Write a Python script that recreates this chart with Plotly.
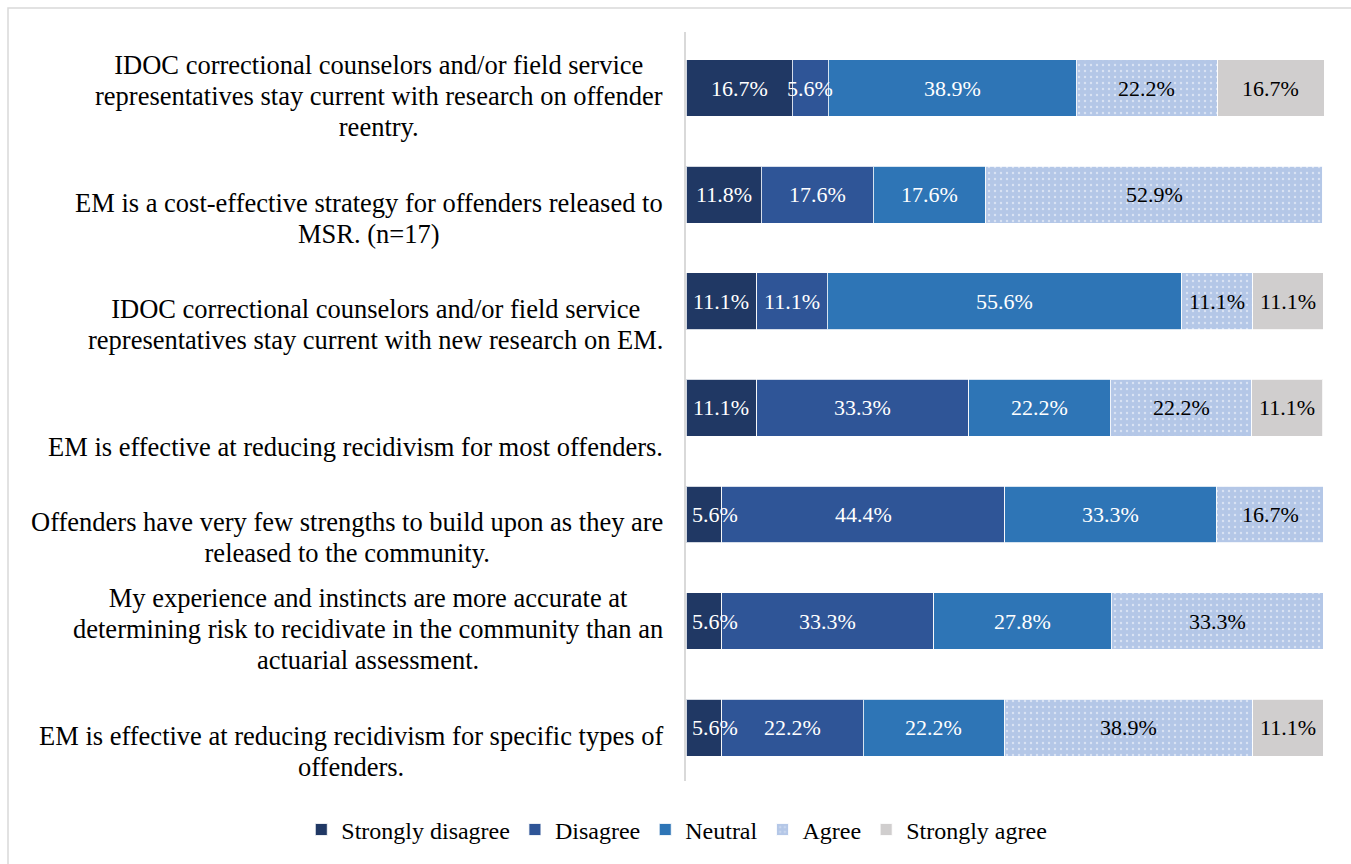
import plotly.graph_objects as go

# Survey statements, top to bottom (one list entry per printed line)
statements = [
    ["IDOC correctional counselors and/or field service",
     "representatives stay current with research on offender",
     "reentry."],
    ["EM is a cost-effective strategy for offenders released to",
     "MSR. (n=17)"],
    ["IDOC correctional counselors and/or field service",
     "representatives stay current with new research on EM."],
    ["EM is effective at reducing recidivism for most offenders."],
    ["Offenders have very few strengths to build upon as they are",
     "released to the community."],
    ["My experience and instincts are more accurate at",
     "determining risk to recidivate in the community than an",
     "actuarial assessment."],
    ["EM is effective at reducing recidivism for specific types of",
     "offenders."],
]
row_ids = ["q1", "q2", "q3", "q4", "q5", "q6", "q7"]

# Response shares (%) per statement
strongly_disagree = [16.7, 11.8, 11.1, 11.1, 5.6, 5.6, 5.6]
disagree = [5.6, 17.6, 11.1, 33.3, 44.4, 33.3, 22.2]
neutral = [38.9, 17.6, 55.6, 22.2, 33.3, 27.8, 22.2]
agree = [22.2, 52.9, 11.1, 22.2, 16.7, 33.3, 38.9]
strongly_agree = [16.7, 0.0, 11.1, 11.1, 0.0, 0.0, 11.1]

series = [
    ("Strongly disagree", strongly_disagree, "#203864", "white", None),
    ("Disagree", disagree, "#2F5597", "white", None),
    ("Neutral", neutral, "#2E75B6", "white", None),
    ("Agree", agree, "#B4C7E7", "black", "."),
    ("Strongly agree", strongly_agree, "#D0CECE", "black", None),
]

FONT = "Liberation Serif"

fig = go.Figure()
for name, vals, color, tcolor, pat in series:
    marker = dict(color=color, line=dict(color="rgba(255,255,255,0.8)", width=1))
    if pat:
        marker["pattern"] = dict(shape=pat, fgcolor="white", bgcolor=color,
                                 size=6, solidity=0.12)
    fig.add_trace(go.Bar(
        name=name,
        y=row_ids,
        x=[v / 100 for v in vals],
        orientation="h",
        marker=marker,
        hoverinfo="skip",
    ))

# Value labels drawn above all segments so wide labels can spill over neighbours
base = [0.0] * len(row_ids)
for name, vals, color, tcolor, pat in series:
    for j, (rid, v) in enumerate(zip(row_ids, vals)):
        if v > 0:
            start = base[j] / 100
            mid = (base[j] + v / 2) / 100
            narrow_first = base[j] == 0 and v < 8
            fig.add_annotation(
                x=start if narrow_first else mid, xref="x", y=rid, yref="y",
                xanchor="left" if narrow_first else "center",
                xshift=4 if narrow_first else 0,
                yanchor="middle",
                text=f"{v:.1f}%", showarrow=False,
                font=dict(family=FONT, size=22, color=tcolor),
            )
        base[j] += v

# Category labels: right-edged block, centred lines, bottom-anchored to each bar
for rid, lines in zip(row_ids, statements):
    text = "<br>".join(f"<span style='font-size:26.5px'>{ln}</span>" for ln in lines)
    fig.add_annotation(
        x=0, xref="paper", y=rid, yref="y",
        xanchor="right", yanchor="bottom", align="center",
        xshift=-21, yshift=-56,
        text=text, showarrow=False,
        font=dict(family=FONT, size=24, color="black"),
    )

# Light chart frame
fig.add_shape(type="rect", xref="paper", yref="paper",
              x0=-1.0627, x1=1.2, y0=-0.3, y1=1.032,
              line=dict(color="#D9D9D9", width=1.5), fillcolor="rgba(0,0,0,0)",
              layer="below")

fig.update_layout(
    width=1351, height=864,
    margin=dict(l=686, r=27, t=32, b=83, autoexpand=False),
    barmode="stack",
    bargap=0.467,
    paper_bgcolor="white",
    plot_bgcolor="white",
    font=dict(family=FONT, color="black"),
    xaxis=dict(range=[0, 1.001], visible=False, fixedrange=True),
    yaxis=dict(autorange="reversed", showticklabels=False, ticks="",
               showgrid=False, zeroline=False,
               showline=True, linecolor="#D9D9D9", linewidth=2),
    legend=dict(orientation="h", x=-0.603, xanchor="left", y=-0.0653, yanchor="middle",
                font=dict(family=FONT, size=24), traceorder="normal",
                itemwidth=30),
    showlegend=True,
)

fig.write_html("out.html")
